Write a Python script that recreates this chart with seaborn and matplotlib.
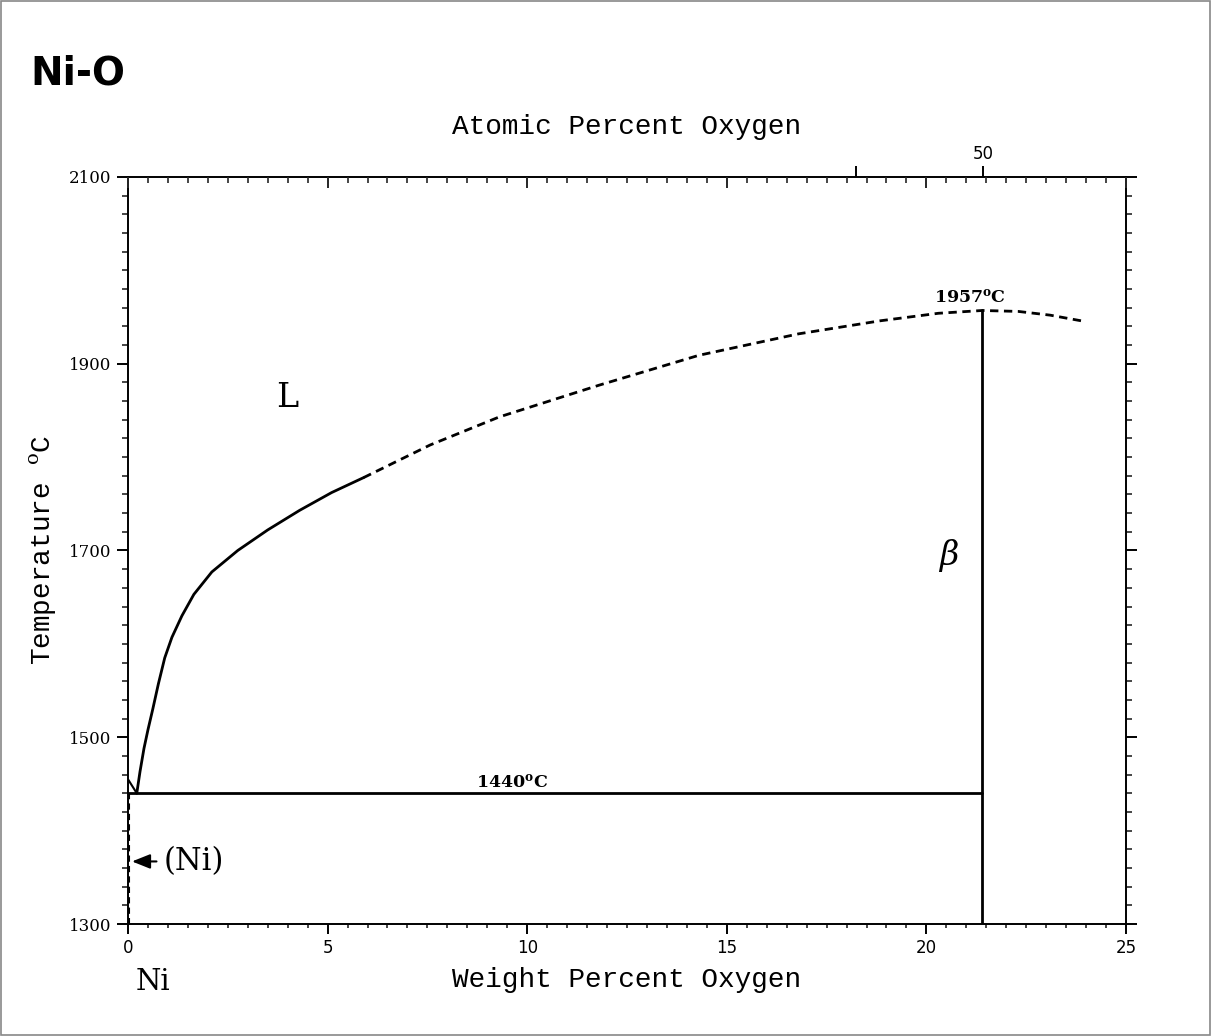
import numpy as np
import pandas as pd
import matplotlib
matplotlib.use("Agg")
import matplotlib.pyplot as plt
from matplotlib.ticker import MultipleLocator, FixedLocator, NullLocator
from matplotlib.patches import Rectangle
import seaborn as sns

# ---------------- data ----------------
liq_solid_x = [0.22, 0.30, 0.40, 0.50, 0.62, 0.76, 0.92, 1.10, 1.35, 1.65, 2.10, 2.75, 3.50, 4.30, 5.10, 5.90]
liq_solid_t = [1440, 1463, 1488, 1508, 1530, 1557, 1585, 1607, 1630, 1653, 1677, 1700, 1722, 1743, 1762, 1778]
liq_dash_x = [5.9, 7.57, 9.3, 11.8, 14.3, 16.8, 18.85, 20.3, 21.4, 22.3, 23.1, 24.0]
liq_dash_t = [1778, 1813, 1843, 1877, 1909, 1932, 1946, 1954, 1957, 1956, 1952, 1945]
ni_liq_x = [0.0, 0.22]
ni_liq_t = [1455, 1440]
ni_solvus_x = [0.03, 0.03]
ni_solvus_t = [1440, 1300]
eutectic_x = [0.0, 21.4]
eutectic_t = [1440, 1440]
nio_x = [21.4, 21.4]
nio_t = [1957, 1300]

x_major = [0, 5, 10, 15, 20, 25]
y_major = [1300, 1500, 1700, 1900, 2100]
at_ticks = [45, 50]
at_labels = ["", "50"]

# ---------------- style ----------------
sns.set_theme(style="ticks")
plt.rcParams["font.family"] = ["DejaVu Serif", "DejaVu Sans"]
plt.rcParams["mathtext.fontset"] = "custom"
plt.rcParams["mathtext.rm"] = "DejaVu Serif"
plt.rcParams["mathtext.it"] = "DejaVu Serif:italic"
plt.rcParams["mathtext.bf"] = "DejaVu Serif:bold"
plt.rcParams["axes.linewidth"] = 1.4

fig = plt.figure(figsize=(12.11, 10.36), dpi=100)
fig.patch.set_facecolor("white")
fig.patches.append(Rectangle((0.001, 0.001), 0.998, 0.998, transform=fig.transFigure,
                             fill=False, edgecolor="#888888", linewidth=1.2))
ax = fig.add_axes([0.1057, 0.1081, 0.8241, 0.7211])

lw = 2.0
sns.lineplot(x=liq_solid_x, y=liq_solid_t, ax=ax, color="black", lw=lw, sort=False, estimator=None)
sns.lineplot(x=liq_dash_x, y=liq_dash_t, ax=ax, color="black", lw=lw, sort=False, estimator=None,
             linestyle=(0, (3, 2)))
sns.lineplot(x=ni_liq_x, y=ni_liq_t, ax=ax, color="black", lw=1.5, sort=False, estimator=None)
sns.lineplot(x=ni_solvus_x, y=ni_solvus_t, ax=ax, color="black", lw=1.5, sort=False, estimator=None,
             linestyle=(0, (3, 2)))
sns.lineplot(x=eutectic_x, y=eutectic_t, ax=ax, color="black", lw=lw, sort=False, estimator=None)
sns.lineplot(x=nio_x, y=nio_t, ax=ax, color="black", lw=lw, sort=False, estimator=None)

ax.set_xlim(0, 25)
ax.set_ylim(1300, 2100)
for s in ax.spines.values():
    s.set_visible(True)
    s.set_color("black")
    s.set_linewidth(1.4)

ax.xaxis.set_major_locator(FixedLocator(x_major))
ax.xaxis.set_minor_locator(MultipleLocator(0.5))
ax.yaxis.set_major_locator(FixedLocator(y_major))
ax.yaxis.set_minor_locator(MultipleLocator(20))
ax.set_xticklabels([str(v) for v in x_major], family="DejaVu Sans", fontsize=12)
ax.set_yticklabels([str(v) for v in y_major], family="DejaVu Serif", fontsize=12)
ax.tick_params(axis="x", which="major", direction="out", length=7, width=1.4, pad=4, colors="black")
ax.tick_params(axis="x", which="minor", direction="out", length=3, width=1.2)
ax.tick_params(axis="y", which="major", direction="out", length=8, width=1.4, pad=4, right=True, left=True)
ax.tick_params(axis="y", which="minor", direction="out", length=4, width=1.2, right=True, left=True)
ax.tick_params(axis="both", colors="black", labelcolor="black")

# top weight-percent ticks (pointing in)
ax_top = ax.twiny()
ax_top.set_xlim(0, 25)
ax_top.xaxis.set_major_locator(FixedLocator(x_major))
ax_top.xaxis.set_minor_locator(MultipleLocator(0.5))
ax_top.tick_params(axis="x", which="major", direction="in", length=8, width=1.4, labeltop=False, top=True)
ax_top.tick_params(axis="x", which="minor", direction="in", length=4, width=1.2, top=True)
for s in ax_top.spines.values():
    s.set_visible(False)

# top atomic-percent ticks (pointing out)
def at_to_wt(a):
    return 100 * a * 16.00 / (a * 16.00 + (100 - a) * 58.69)

ax_at = ax.twiny()
ax_at.set_xlim(0, 25)
ax_at.xaxis.set_major_locator(FixedLocator([at_to_wt(a) for a in at_ticks]))
ax_at.xaxis.set_minor_locator(NullLocator())
ax_at.set_xticklabels(at_labels, family="DejaVu Sans", fontsize=12)
ax_at.tick_params(axis="x", which="major", direction="out", length=8, width=1.4, pad=2, colors="black")
for s in ax_at.spines.values():
    s.set_visible(False)

# axis labels
mono = "Liberation Mono"
ax.set_xlabel("Weight Percent Oxygen", family=mono, fontsize=20, color="black")
ax.xaxis.set_label_coords(0.5, -0.058)
ax.set_ylabel(r"Temperature $^{\mathrm{o}}$C", family=mono, fontsize=20, color="black")
ax.yaxis.set_label_coords(-0.07, 0.5)
ax.text(0.5, 1.067, "Atomic Percent Oxygen", transform=ax.transAxes, family=mono, fontsize=20,
        ha="center", va="center", color="black")

# title
fig.text(0.025, 0.918, "Ni-O", family="DejaVu Sans", fontweight="bold", fontsize=28,
         ha="left", va="baseline", color="black")

# annotations
ax.text(0.2, -0.078, "Ni", transform=ax.get_xaxis_transform(), family="DejaVu Serif",
        fontsize=21, ha="left", va="center", color="black")
ax.text(4.0, 1863, "L", family="DejaVu Serif", fontsize=24, ha="center", va="center", color="black")
ax.text(20.55, 1695, r"$\beta$", fontsize=24, ha="center", va="center", color="black")
ax.text(21.1, 1962, r"1957$^{\mathbf{o}}$C", family="DejaVu Serif", fontweight="bold",
        fontsize=12.5, ha="center", va="bottom", color="black")
ax.text(9.62, 1442, r"1440$^{\mathbf{o}}$C", family="DejaVu Serif", fontweight="bold",
        fontsize=12.5, ha="center", va="bottom", color="black")
ax.annotate("(Ni)", xy=(0.1, 1367), xytext=(0.9, 1367), family="DejaVu Serif", fontsize=22,
            ha="left", va="center", color="black",
            arrowprops=dict(arrowstyle="-|>,head_length=0.5,head_width=0.2", color="black",
                            lw=1.5, shrinkA=3, shrinkB=0))

fig.savefig("out.png", dpi=100, facecolor="white")
